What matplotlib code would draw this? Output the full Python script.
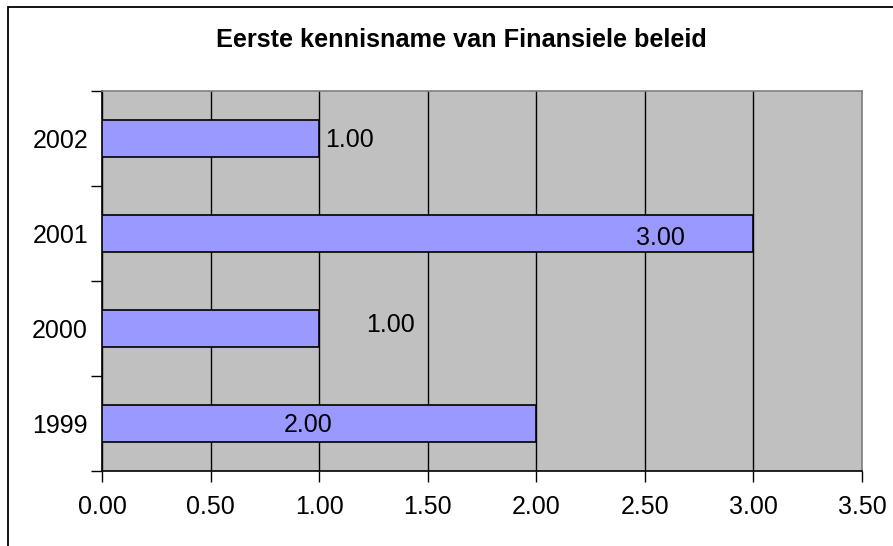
import numpy as np
import matplotlib.pyplot as plt
from matplotlib.patches import Rectangle

plt.rcParams['font.family'] = ['Liberation Sans', 'DejaVu Sans']

years = ['1999', '2000', '2001', '2002']
values = [2.0, 1.0, 3.0, 1.0]
labels = ['2.00', '1.00', '3.00', '1.00']
# data label positions as drawn in the original (x in data units, y shift per bar)
label_x = [0.95, 1.33, 2.57, 1.14]
label_dy = [-0.014, 0.04, -0.05, -0.014]
xticks = [0.0, 0.5, 1.0, 1.5, 2.0, 2.5, 3.0, 3.5]

W, H = 893, 546
fig = plt.figure(figsize=(W / 100, H / 100), dpi=100)
ax = fig.add_axes([102 / W, 1 - 471 / H, 760 / W, 380 / H])

# chart border (only left/top visible in original)
fig.patches.append(Rectangle((8 / W, -0.1), 1.2, 1.1 - 7 / H, transform=fig.transFigure,
                             fill=False, edgecolor='black', linewidth=1.3))

ax.set_facecolor('#C0C0C0')
y = np.arange(len(years))
ax.barh(y, values, height=0.39, color='#9999FF', edgecolor='black', linewidth=1.2, zorder=3)

for i in range(len(years)):
    ax.text(label_x[i], y[i] + label_dy[i], labels[i], ha='center', va='center',
            fontsize=18, zorder=4)

ax.set_xlim(0, 3.5)
ax.set_ylim(-0.5, 3.5)
ax.set_xticks(xticks)
ax.set_xticklabels(['%.2f' % t for t in xticks], fontsize=18)
ax.set_yticks(y)
ax.set_yticklabels(years, fontsize=18)
ax.set_yticks(np.arange(-0.5, 4, 1), minor=True)
ax.tick_params(axis='y', which='major', length=0, pad=10)
ax.tick_params(axis='y', which='minor', length=8, width=1, direction='out')
ax.tick_params(axis='x', length=8, width=1, direction='out', pad=9)

ax.grid(axis='x', color='black', linewidth=1, zorder=1)
ax.set_axisbelow(True)

ax.spines['left'].set_color('black')
ax.spines['bottom'].set_color('black')
ax.spines['top'].set_color('#808080')
ax.spines['right'].set_color('#808080')
for s in ax.spines.values():
    s.set_linewidth(1.2)

fig.text(461 / W, 1 - 40 / H, 'Eerste kennisname van Finansiele beleid',
         ha='center', va='center', fontsize=18.2, fontweight='bold')

plt.savefig('out.png', dpi=100)
